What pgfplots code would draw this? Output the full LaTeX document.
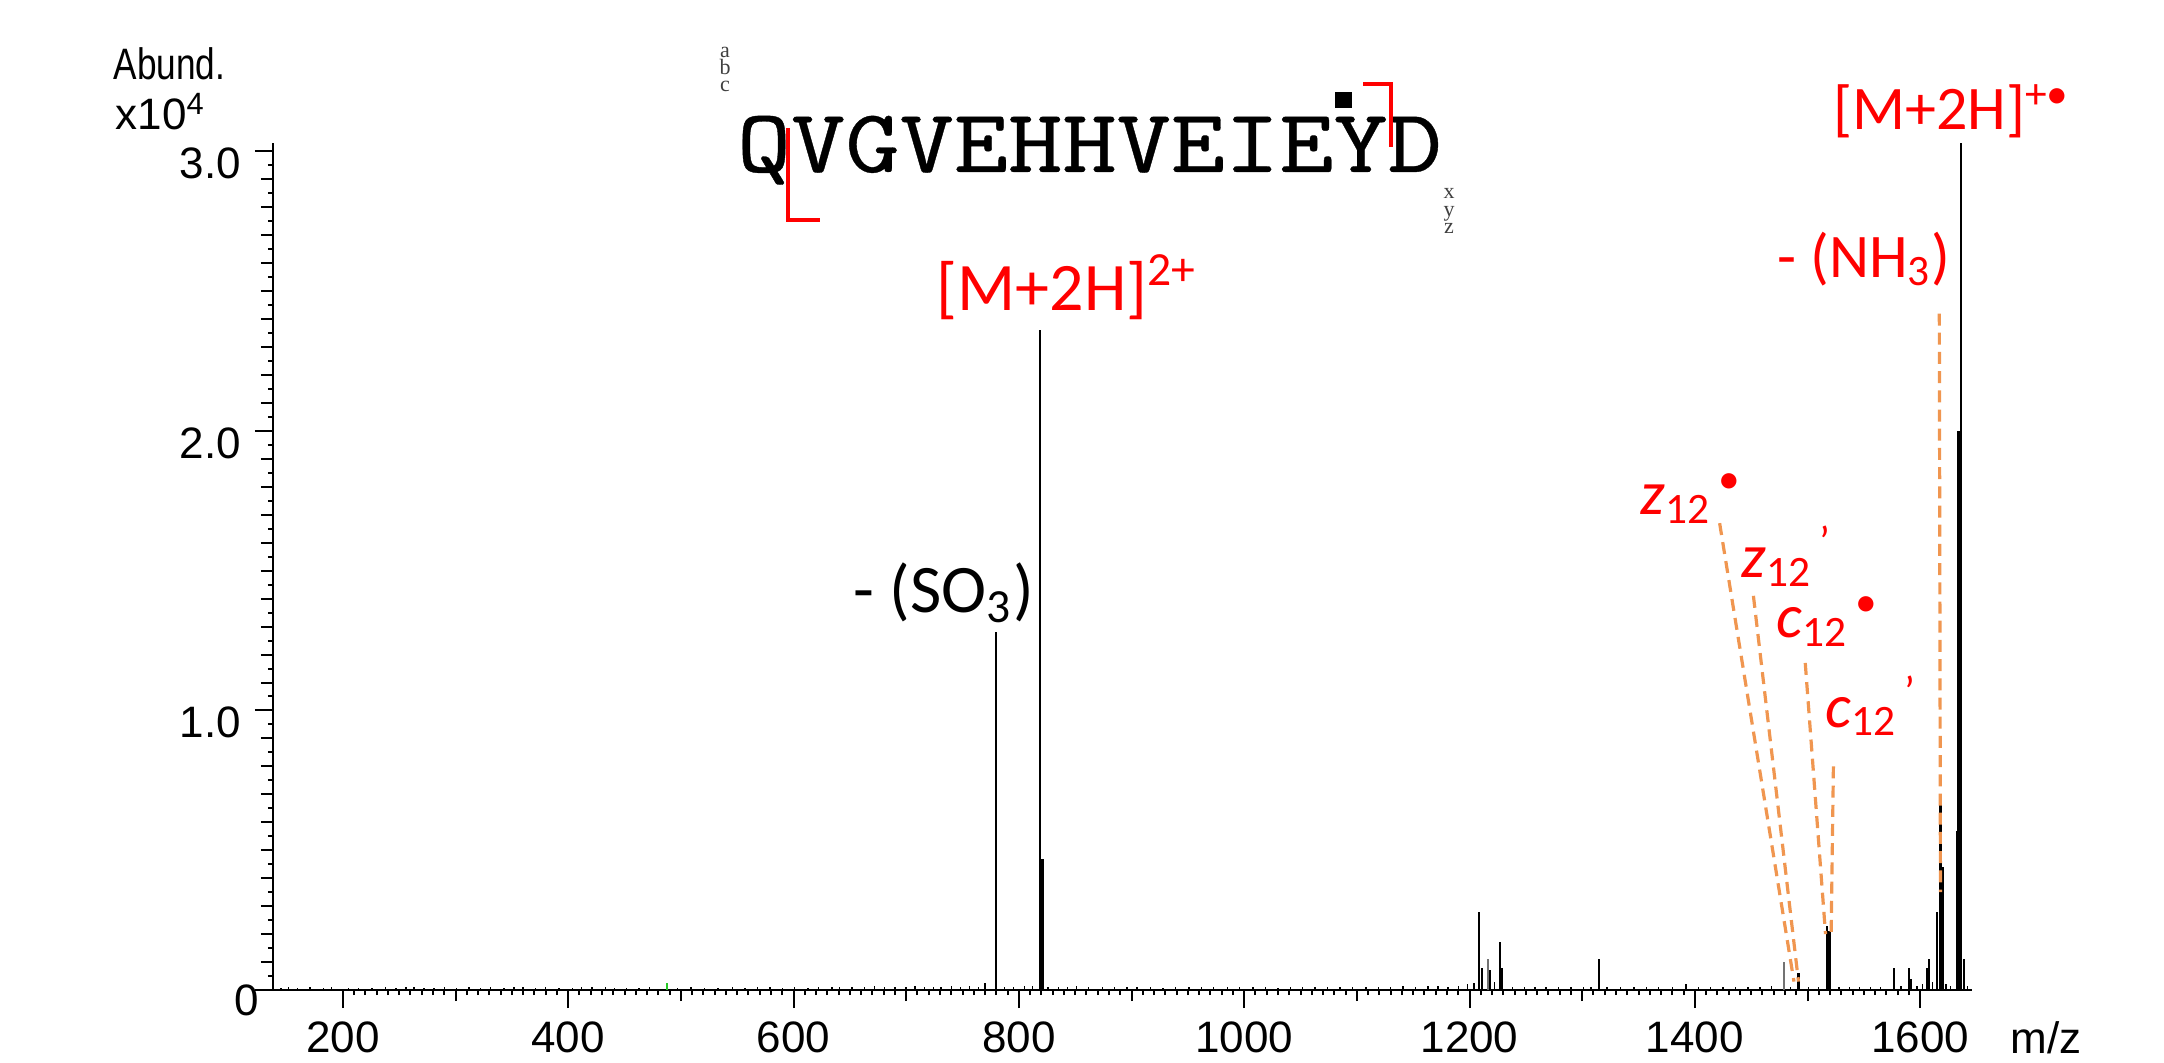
\documentclass[border=0pt]{standalone}
\usepackage{pgfplots}
\pgfplotsset{compat=1.18}
\usepackage{fontspec}
\setmainfont{Liberation Sans}
\newfontfamily\calibri{Carlito}
\newfontfamily\timesf{Liberation Serif}
\newfontfamily\seqfont{lmmono10-regular.otf}[FakeBold=0.35]
\definecolor{annred}{RGB}{255,0,0}
\definecolor{dashor}{RGB}{240,150,80}
\definecolor{gpeak}{RGB}{40,200,40}
\newcommand\frag[3]{\textit{#1}\textsubscript{#2}\textsuperscript{#3}}
\begin{document}
\begin{tikzpicture}
\path[use as bounding box] (-68.25pt,-18pt) rectangle (472.75pt,247.5pt);
\begin{axis}[
  at={(0,0)}, anchor=south west,
  scale only axis, width=424.75pt, height=211.75pt,
  xmin=138, xmax=1646, ymin=0, ymax=3.03,
  axis lines*=left,
  axis line style={line width=0.6pt},
  tick align=outside,
  xtick={200,400,...,1600},
  ytick={0,1,2,3}, yticklabels={,1.0,2.0,3.0},
  minor x tick num=19, minor y tick num=19,
  major tick length=4.5pt, minor tick length=1.3pt,
  extra x ticks={300,500,...,1500}, extra x tick labels={},
  extra x tick style={major tick length=2.75pt},
  extra y ticks={0.1,0.2,0.3,0.4,0.5,0.6,0.7,0.8,0.9,1.1,1.2,1.3,1.4,1.5,1.6,1.7,1.8,1.9,2.1,2.2,2.3,2.4,2.5,2.6,2.7,2.8,2.9},
  extra y tick labels={},
  extra y tick style={major tick length=3pt},
  tick style={black, line width=0.5pt},
  tick label style={font=\fontsize{11}{13}\selectfont},
  yticklabel style={yshift=-3pt},
  /pgf/number format/1000 sep={},
  /pgf/number format/assume math mode=true,
  clip=false,
]
% baseline noise
\addplot[ycomb, black, line width=0.35pt, mark=none] coordinates {
(145,0.008)(152,0.01)(160,0.006)(171,0.009)(183,0.007)(190,0.01)(205,0.006)(214,0.008)(226,0.007)(238,0.01)
(247,0.006)(256,0.009)(263,0.012)(272,0.008)(281,0.007)(290,0.009)(301,0.006)(312,0.011)(322,0.008)(331,0.01)
(343,0.007)(352,0.012)(360,0.009)(371,0.008)(380,0.01)(392,0.007)(404,0.006)(412,0.011)(421,0.009)(433,0.01)
(441,0.007)(452,0.008)(463,0.006)(472,0.01)(497,0.007)(509,0.009)(521,0.006)(533,0.008)(546,0.01)(557,0.007)
(568,0.009)(579,0.011)(590,0.007)(601,0.009)(613,0.008)(622,0.01)(634,0.012)(641,0.009)(652,0.011)(663,0.01)
(672,0.013)(681,0.009)(690,0.012)(700,0.01)(708,0.014)(716,0.011)(724,0.012)(731,0.01)(740,0.013)(748,0.011)
(756,0.015)(764,0.012)(770,0.025)(787,0.012)(795,0.01)(805,0.013)(812,0.014)(826,0.012)(835,0.01)(843,0.011)
(851,0.013)(862,0.009)(874,0.011)(885,0.01)(896,0.012)(905,0.009)(917,0.011)(928,0.008)(939,0.01)(951,0.012)
(962,0.009)(973,0.011)(985,0.01)(996,0.012)(1008,0.009)(1019,0.011)(1030,0.008)(1041,0.01)(1052,0.009)(1063,0.012)
(1074,0.01)(1085,0.011)(1096,0.009)(1108,0.012)(1119,0.01)(1130,0.011)(1141,0.013)(1152,0.012)(1163,0.014)(1172,0.013)
(1181,0.012)(1190,0.015)(1198,0.02)(1204,0.025)(1222,0.03)(1238,0.012)(1249,0.01)(1258,0.011)(1268,0.009)(1279,0.012)
(1290,0.01)(1301,0.011)(1308,0.01)(1322,0.009)(1334,0.011)(1346,0.01)(1357,0.012)(1368,0.01)(1380,0.009)(1403,0.01)
(1414,0.011)(1425,0.009)(1436,0.012)(1447,0.01)(1458,0.011)(1468,0.013)(1485,0.012)(1501,0.011)(1510,0.01)(1528,0.012)
(1537,0.01)(1546,0.011)(1556,0.01)(1565,0.012)(1583,0.015)(1597,0.013)(1602,0.02)(1611,0.03)(1623,0.02)(1627,0.015)(1642,0.015)
};
% green trace
\addplot[ycomb, gpeak, line width=0.5pt, mark=none] coordinates {(488,0.025)};
% peaks
\addplot[ycomb, black, line width=0.6pt, mark=none] coordinates {
(779.5,1.28)(819,2.36)
(1208.5,0.28)(1211,0.08)(1218,0.07)(1227,0.17)(1229,0.08)(1315,0.11)(1392,0.02)
(1492,0.06)(1517.5,0.23)(1519.5,0.21)(1577,0.08)(1590,0.08)(1591.5,0.04)(1606,0.08)(1608,0.11)
(1615,0.28)(1618,0.68)(1633,0.57)(1636,3.03)(1639,0.11)
};
\addplot[ycomb, black!55, line width=0.6pt, mark=none] coordinates {(1216.5,0.11)(1479,0.10)};
\addplot[ycomb, black, line width=1.1pt, mark=none] coordinates {(820,0.47)(1619.5,0.44)(1634.5,2.0)};
% leader lines
\begin{scope}[dashor, line width=0.8pt, dash pattern=on 3pt off 1.8pt]
\draw (axis cs:1422,1.67) -- (axis cs:1488,0.03);
\draw (axis cs:1452,1.41) -- (axis cs:1492,0.03);
\draw (axis cs:1498,1.17) -- (axis cs:1516,0.2);
\draw (axis cs:1523,0.80) -- (axis cs:1521,0.2);
\draw (axis cs:1617,2.42) -- (axis cs:1618,0.35);
\end{scope}
% labels
\begin{scope}[every node/.style={anchor=base west, inner sep=0, font=\calibri\fontsize{15.5}{17}\selectfont}]
\node[text=annred, font=\calibri\fontsize{17}{19}\selectfont] at (axis cs:726.5,2.43) {[M+2H]\textsuperscript{2+}};
\node[text=black, font=\calibri\fontsize{17}{19}\selectfont] at (axis cs:652.8,1.35) {- (SO\textsubscript{3})};
\node[text=annred] at (axis cs:1522,3.08) {[M+2H]\textsuperscript{+\textbullet}};
\node[text=annred] at (axis cs:1472.6,2.55) {- (NH\textsubscript{3})};
\node[text=annred] at (axis cs:1351,1.70) {\frag{z}{12}{\,\textbullet}};
\node[text=annred] at (axis cs:1441,1.475) {\frag{z}{12}{\,’}};
\node[text=annred] at (axis cs:1472,1.26) {\frag{c}{12}{\,\textbullet}};
\node[text=annred] at (axis cs:1515,0.94) {\frag{c}{12}{\,’}};
\end{scope}
\end{axis}
% zero label of the y axis
\node[anchor=center, inner sep=0, font=\fontsize{11}{13}\selectfont] at (-6.5pt,-2.5pt) {0};
% axis titles
\node[anchor=base west, inner sep=0, font=\fontsize{11}{13}\selectfont, xscale=0.8, transform shape] at (-40pt,227.5pt) {Abund.};
\node[anchor=base west, inner sep=0, font=\fontsize{11}{13}\selectfont] at (-39.5pt,215pt) {x10\textsuperscript{4}};
\node[anchor=base west, inner sep=0, font=\fontsize{11}{13}\selectfont] at (434.25pt,-15.75pt) {m/z};
% peptide sequence
\node[anchor=base west, inner sep=0, font=\seqfont\fontsize{22.6}{24}\selectfont, xscale=1.143, transform shape] at (115.75pt,204.5pt) {QVGVEHHVEIEYD};
\node[anchor=north, inner sep=0, align=center, text=black!75, font=\timesf\fontsize{5.5}{4.3}\selectfont] at (113pt,236pt) {a\\b\\c};
\node[anchor=north, inner sep=0, align=center, text=black!75, font=\timesf\fontsize{5.5}{4.3}\selectfont] at (294pt,200.5pt) {x\\y\\z};
\draw[annred, line width=0.8pt] (128.75pt,215.5pt) -- (128.75pt,192.5pt) -- (136.75pt,192.5pt);
\draw[annred, line width=0.8pt] (272.5pt,226.5pt) -- (279.5pt,226.5pt) -- (279.5pt,210.75pt);
\fill[black] (265.6pt,220.4pt) rectangle (269.8pt,224.6pt);
\end{tikzpicture}
\end{document}
